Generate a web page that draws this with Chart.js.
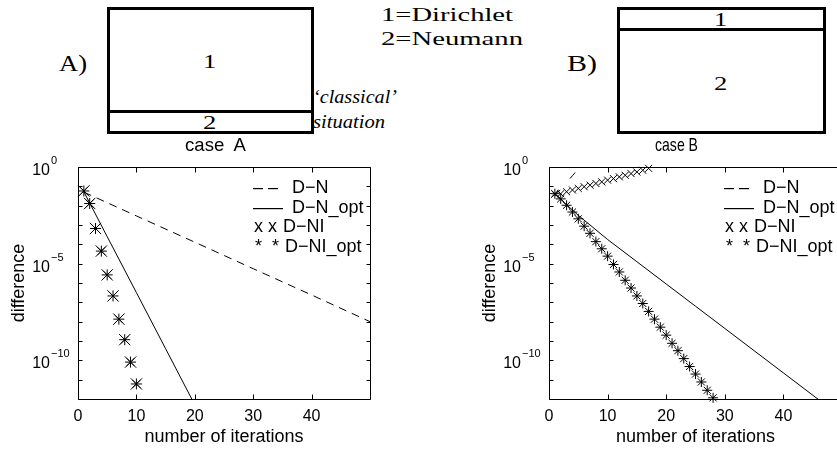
<!DOCTYPE html>
<html>
<head>
<meta charset="utf-8">
<script src="https://cdn.jsdelivr.net/npm/chart.js@4.4.0/dist/chart.umd.min.js"></script>
<style>
  html, body { margin: 0; padding: 0; background: #fff; overflow: hidden; }
  body { width: 837px; height: 450px; position: relative; }
  .box { position: absolute; border: 3px solid #000; box-sizing: border-box; }
  .bar { position: absolute; height: 3px; background: #000; }
  .lbl { position: absolute; white-space: pre; line-height: 1; color: #000; transform-origin: 0 0; }
  .serif { font-family: "Liberation Serif", "DejaVu Serif", serif; }
  .sans { font-family: "Liberation Sans", Arial, sans-serif; }
  #chartA { position: absolute; left: 0; top: 150px; }
  #chartB { position: absolute; left: 420px; top: 150px; }
</style>
</head>
<body>
<div class="box" style="left:107px; top:7px; width:207px; height:127px;"></div>
<div class="bar" style="left:107px; top:110px; width:207px;"></div>
<div class="box" style="left:617px; top:7px; width:209px; height:127px;"></div>
<div class="bar" style="left:617px; top:28px; width:209px;"></div>

<canvas id="chartA" width="420" height="300"></canvas>
<canvas id="chartB" width="440" height="300"></canvas>

<script>
// ---- data ----
// case A
const iterA = [1, 2, 3, 4, 5, 6, 7, 8, 9, 10];
const dniA = [5.75e-2, 1.29e-2, 6.6e-4, 4.47e-5, 2.63e-6, 2.14e-7, 1.35e-8, 1.17e-9, 8.1e-11, 6.0e-12];
const dniOptA = [5.75e-2, 1.29e-2, 6.6e-4, 4.47e-5, 2.63e-6, 2.14e-7, 1.35e-8, 1.17e-9, 8.1e-11, 6.0e-12];
const dnIterA = [1, 10, 20, 30, 40, 50];
const dnA = [5.0e-2, 2.95e-3, 1.29e-4, 5.5e-6, 2.4e-7, 1.0e-8];
const dnOptIterA = [1, 5, 10, 15, 20];
const dnOptA = [5.25e-2, 2.5e-4, 3.2e-7, 4.0e-10, 5.0e-13];

// case B
const dniIterB = [1, 2, 3, 4, 5, 6, 7, 8, 9, 10, 11, 12, 13, 14, 15, 16, 17];
const dniB = [3.98e-2, 4.17e-2, 5.25e-2, 6.46e-2, 7.76e-2, 9.55e-2, 0.115, 0.141, 0.170,
              0.209, 0.251, 0.309, 0.372, 0.457, 0.550, 0.676, 0.851];
const dniOptIterB = [1, 2, 3, 4, 5, 6, 7, 8, 9, 10, 11, 12, 13, 14, 15, 16, 17, 18, 19, 20,
                     21, 22, 23, 24, 25, 26, 27, 28];
const dniOptB = [4.17e-2, 2.24e-2, 1.05e-2, 4.68e-3, 2.09e-3, 8.7e-4, 3.72e-4, 1.38e-4, 5.9e-5, 2.45e-5,
                 9.1e-6, 3.72e-6, 1.38e-6, 5.5e-7, 2.14e-7, 8.7e-8, 3.39e-8, 1.35e-8, 5.2e-9, 2.0e-9,
                 7.6e-10, 3.16e-10, 1.23e-10, 4.8e-11, 1.95e-11, 7.6e-12, 2.82e-12, 1.15e-12];
const dnIterB = [1, 2, 3, 4, 5, 6];
const dnB = [3.2e-2, 7.1e-2, 0.158, 0.355, 0.79, 1.78];
const dnOptIterB = [1, 5, 10, 15, 20, 25, 30, 35, 40, 46];
const dnOptB = [3.98e-2, 3.16e-3, 1.78e-4, 1.26e-5, 8.9e-7, 6.3e-8, 4.47e-9, 3.16e-10, 2.24e-11, 9.3e-13];

// axes / legend text
const xTickValues = [0, 10, 20, 30, 40];
const yDecades = [1, 1e-1, 1e-2, 1e-3, 1e-4, 1e-5, 1e-6, 1e-7, 1e-8, 1e-9, 1e-10, 1e-11, 1e-12];
const yLabelExps = [0, -5, -10];
const legendSamples = ['\u2013 \u2013', '\u2013\u2013\u2013', 'x x', '*  *'];
const legendLabels = ['D\u2212N', 'D\u2212N_opt', 'D\u2212NI', 'D\u2212NI_opt'];

const SANS = '"Liberation Sans", Arial, sans-serif';

function toXY(xs, ys) {
    return xs.map((x, i) => ({ x: x, y: ys[i] }));
}

// box, inward ticks, 10^n labels and the text legend (MATLAB look)
const framePlugin = {
    id: 'frame',
    afterDraw(chart) {
        const ctx = chart.ctx;
        const a = chart.chartArea;
        const x = chart.scales.x, y = chart.scales.y;
        ctx.save();
        ctx.strokeStyle = '#000';
        ctx.lineWidth = 1;
        const l = Math.round(a.left) + 0.5, t = Math.round(a.top) + 0.5;
        const r = Math.round(a.right) + 0.5, b = Math.round(a.bottom) + 0.5;
        ctx.beginPath();
        ctx.moveTo(l, t); ctx.lineTo(r, t); ctx.lineTo(r, b); ctx.lineTo(l, b); ctx.closePath();
        xTickValues.forEach(v => {
            const px = Math.round(x.getPixelForValue(v)) + 0.5;
            ctx.moveTo(px, b); ctx.lineTo(px, b - 5);
            ctx.moveTo(px, t); ctx.lineTo(px, t + 5);
        });
        yDecades.forEach(v => {
            const py = Math.round(y.getPixelForValue(v)) + 0.5;
            ctx.moveTo(l, py); ctx.lineTo(l + 4, py);
            ctx.moveTo(r, py); ctx.lineTo(r - 4, py);
        });
        ctx.stroke();

        ctx.fillStyle = '#000';
        ctx.textBaseline = 'middle';
        yLabelExps.forEach(e => {
            const py = y.getPixelForValue(Math.pow(10, e));
            ctx.font = '16px ' + SANS;
            ctx.textAlign = 'right';
            ctx.fillText('10', a.left - 28, py + 3.5);
            ctx.font = '11px ' + SANS;
            ctx.textAlign = 'left';
            ctx.fillText(e === 0 ? '0' : '\u2212' + (-e), a.left - 27, py - 6);
        });

        const rowY = [21.5, 41, 60.5, 80];
        const sampleX = [175, 175, 176, 177];
        const labelX = [214, 214, 205, 207];
        ctx.font = '18px ' + SANS;
        ctx.textAlign = 'left';
        legendSamples.forEach((s, i) => {
            ctx.fillText(s, a.left + sampleX[i], a.top + rowY[i]);
            ctx.fillText(legendLabels[i], a.left + labelX[i], a.top + rowY[i]);
        });
        ctx.restore();
    }
};

function makeChart(id, yAxisWidth, padRight, sets) {
    return new Chart(document.getElementById(id), {
        type: 'scatter',
        data: { datasets: sets },
        options: {
            responsive: false,
            devicePixelRatio: 1,
            animation: false,
            events: [],
            layout: { padding: { left: 0, right: padRight, top: 17, bottom: 0 } },
            plugins: { legend: { display: false }, tooltip: { enabled: false } },
            scales: {
                x: {
                    type: 'linear', min: 0, max: 50,
                    afterBuildTicks: s => { s.ticks = xTickValues.map(v => ({ value: v })); },
                    ticks: { color: '#000', font: { family: SANS, size: 16 }, padding: 8, maxRotation: 0, autoSkip: false },
                    grid: { display: false, drawTicks: false },
                    border: { display: false },
                    title: { display: true, text: 'number of iterations', color: '#000',
                             font: { family: SANS, size: 18 }, padding: { top: 0, bottom: 2 } },
                    afterFit: s => { s.height = 51; }
                },
                y: {
                    type: 'logarithmic', min: 1e-12, max: 1,
                    ticks: { display: false },
                    grid: { display: false, drawTicks: false },
                    border: { display: false },
                    title: { display: true, text: 'difference', color: '#000',
                             font: { family: SANS, size: 18 }, padding: { top: yAxisWidth - 70, bottom: 0 } },
                    afterFit: s => { s.width = yAxisWidth; }
                }
            }
        },
        plugins: [framePlugin]
    });
}

function lineSet(label, xs, ys, dash) {
    return { label: label, data: toXY(xs, ys), showLine: true, borderColor: '#000', borderWidth: 1,
             borderDash: dash, pointRadius: 0, fill: false };
}
function markSet(label, xs, ys, style, radius) {
    return { label: label, data: toXY(xs, ys), showLine: false, pointStyle: style, pointRadius: radius,
             pointBorderColor: '#000', pointBorderWidth: 1, pointBackgroundColor: 'rgba(0,0,0,0)', clip: false };
}

makeChart('chartA', 78, 50, [
    lineSet('D-N', dnIterA, dnA, [8, 6]),
    lineSet('D-N_opt', dnOptIterA, dnOptA, []),
    markSet('D-NI', iterA, dniA, 'crossRot', 8),
    markSet('D-NI_opt', iterA, dniOptA, 'star', 5.5)
]);

makeChart('chartB', 129, 18, [
    lineSet('D-N', dnIterB, dnB, [8, 15]),
    lineSet('D-N_opt', dnOptIterB, dnOptB, []),
    markSet('D-NI', dniIterB, dniB, 'crossRot', 5),
    markSet('D-NI_opt', dniOptIterB, dniOptB, 'star', 5)
]);

// ---- schematic labels above the plots (stretched like the original drawing) ----
function placeText(str, cls, size, x, baseline, opts) {
    const el = document.createElement('div');
    el.className = 'lbl ' + cls;
    el.textContent = str;
    el.style.fontSize = size + 'px';
    if (opts.italic) el.style.fontStyle = 'italic';
    document.body.appendChild(el);
    const asc = cls === 'serif' ? 0.8375 : 0.8465;
    el.style.top = (baseline - asc * size) + 'px';
    const w = el.getBoundingClientRect().width;
    const sx = opts.width ? opts.width / w : opts.sx;
    el.style.left = (opts.center ? x - w * sx / 2 : x) + 'px';
    el.style.transform = 'scaleX(' + sx + ')';
}

placeText('A)', 'serif', 23, 59, 71, { width: 28 });
placeText('1', 'serif', 19, 210, 68, { center: true, sx: 1.4 });
placeText('2', 'serif', 19, 210, 129, { center: true, sx: 1.4 });
placeText('1=Dirichlet', 'serif', 19, 381, 20.7, { width: 132 });
placeText('2=Neumann', 'serif', 19, 381, 45, { width: 142 });
placeText('\u2018classical\u2019', 'serif', 19, 313, 102.5, { width: 84, italic: true });
placeText('situation', 'serif', 19, 313, 128, { width: 72, italic: true });
placeText('case  A', 'sans', 19, 185, 151, { width: 61 });
placeText('B)', 'serif', 23, 567, 71, { width: 30 });
placeText('1', 'serif', 19, 721, 26.3, { center: true, sx: 1.4 });
placeText('2', 'serif', 19, 721, 89.7, { center: true, sx: 1.4 });
placeText('case B', 'sans', 19, 655, 151, { width: 43 });
</script>
</body>
</html>
